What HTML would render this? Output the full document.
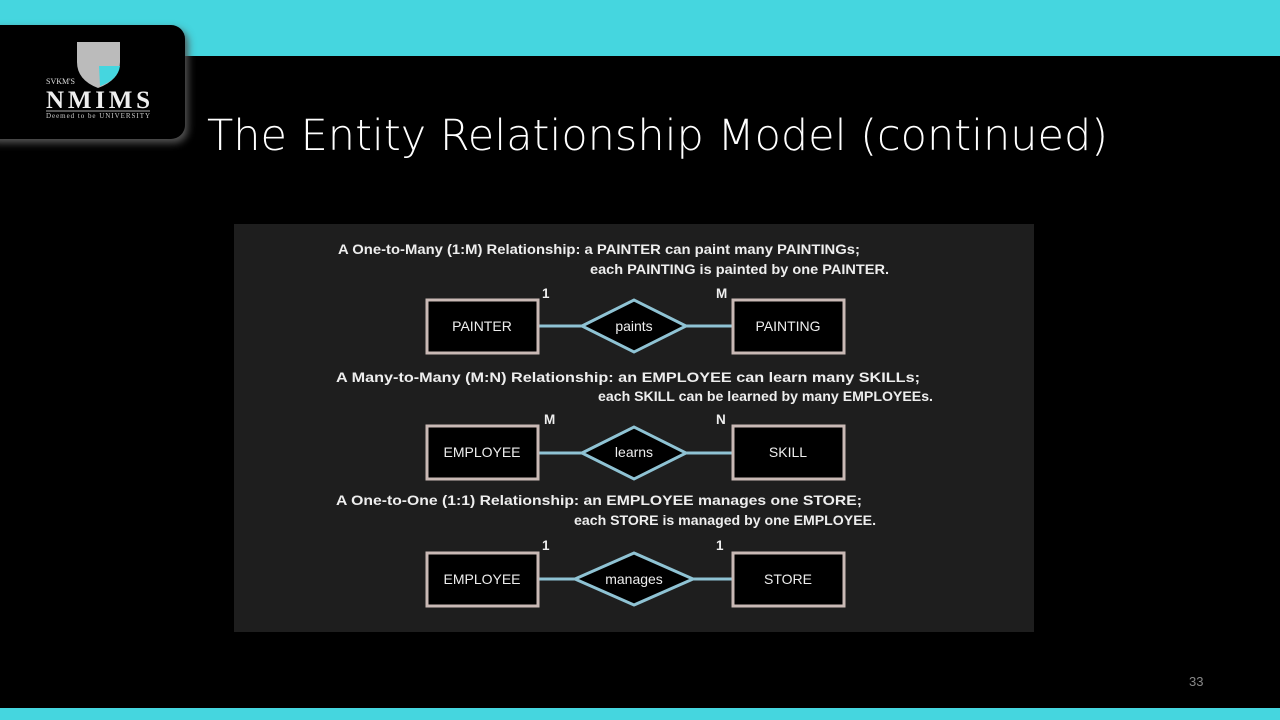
<!DOCTYPE html>
<html><head><meta charset="utf-8"><style>
body{margin:0;width:1280px;height:720px;background:#000;position:relative;overflow:hidden;font-family:"Liberation Sans",sans-serif}
.top{position:absolute;left:0;top:0;width:1280px;height:56px;background:#45d6df}
.bot{position:absolute;left:0;top:708px;width:1280px;height:12px;background:#45d6df}
.logo{position:absolute;left:-20px;top:25px;width:205px;height:114px;background:#000;border-radius:14px;box-shadow:3px 4px 8px #555}
.title{position:absolute;left:207px;top:111px;font-size:43px;color:#fff;font-family:"DejaVu Sans","Liberation Sans",sans-serif;font-weight:200;letter-spacing:0px;white-space:nowrap}
.num{position:absolute;left:1189px;top:674px;color:#888;font-size:13px}
</style></head><body>
<div class="top"></div><div class="bot"></div>
<div class="logo"></div>
<svg style="position:absolute;left:0;top:0" width="1280" height="720">
<g>
<path d="M77 42 H120 V62 Q120 80 98 88 Q77 80 77 62Z" fill="#bbb"/>
<path d="M99 66 H120 Q118 80 100 86Z" fill="#45d6df"/>
<text x="46" y="84" font-size="8" fill="#ddd" font-family="Liberation Serif">SVKM'S</text>
<text x="98" y="108" font-size="25" fill="#eee" font-family="Liberation Serif" font-weight="bold" text-anchor="middle" textLength="104">NMIMS</text>
<line x1="46" y1="111" x2="150" y2="111" stroke="#aaa"/>
<text x="98" y="118" font-size="7" fill="#ccc" font-family="Liberation Serif" text-anchor="middle" textLength="104">Deemed to be UNIVERSITY</text>
</g>
<rect x="234" y="224" width="800" height="408" fill="#1e1e1e"/>
<g font-family="Liberation Sans" font-size="13.5" fill="#eee" font-weight="bold">
<text x="338" y="254" textLength="522" lengthAdjust="spacingAndGlyphs">A One-to-Many (1:M) Relationship: a PAINTER can paint many PAINTINGs;</text>
<text x="590" y="274" textLength="299" lengthAdjust="spacingAndGlyphs">each PAINTING is painted by one PAINTER.</text>
<text x="336" y="382" textLength="584" lengthAdjust="spacingAndGlyphs">A Many-to-Many (M:N) Relationship: an EMPLOYEE can learn many SKILLs;</text>
<text x="598" y="401" textLength="335" lengthAdjust="spacingAndGlyphs">each SKILL can be learned by many EMPLOYEEs.</text>
<text x="336" y="505" textLength="526" lengthAdjust="spacingAndGlyphs">A One-to-One (1:1) Relationship: an EMPLOYEE manages one STORE;</text>
<text x="574" y="525" textLength="302" lengthAdjust="spacingAndGlyphs">each STORE is managed by one EMPLOYEE.</text>
<text x="542" y="298">1</text><text x="716" y="298">M</text>
<text x="544" y="424">M</text><text x="716" y="424">N</text>
<text x="542" y="550">1</text><text x="716" y="550">1</text>
</g>
<g stroke-width="3" font-family="Liberation Sans" font-size="14" fill="#eee" text-anchor="middle">
<g>
<line x1="538" y1="326" x2="732" y2="326" stroke="#8fc3d4"/>
<rect x="427" y="300" width="111" height="53" fill="#000" stroke="#c9b9b5"/>
<rect x="733" y="300" width="111" height="53" fill="#000" stroke="#c9b9b5"/>
<polygon points="582,326 634,300 686,326 634,352" fill="#000" stroke="#8fc3d4"/>
<text x="482" y="331" stroke="none">PAINTER</text><text x="788" y="331" stroke="none">PAINTING</text><text x="634" y="331" stroke="none">paints</text>
</g>
<g>
<line x1="538" y1="453" x2="732" y2="453" stroke="#8fc3d4"/>
<rect x="427" y="426" width="111" height="53" fill="#000" stroke="#c9b9b5"/>
<rect x="733" y="426" width="111" height="53" fill="#000" stroke="#c9b9b5"/>
<polygon points="582,453 634,427 686,453 634,479" fill="#000" stroke="#8fc3d4"/>
<text x="482" y="457" stroke="none">EMPLOYEE</text><text x="788" y="457" stroke="none">SKILL</text><text x="634" y="457" stroke="none">learns</text>
</g>
<g>
<line x1="538" y1="579" x2="732" y2="579" stroke="#8fc3d4"/>
<rect x="427" y="553" width="111" height="53" fill="#000" stroke="#c9b9b5"/>
<rect x="733" y="553" width="111" height="53" fill="#000" stroke="#c9b9b5"/>
<polygon points="575,579 634,553 693,579 634,605" fill="#000" stroke="#8fc3d4"/>
<text x="482" y="584" stroke="none">EMPLOYEE</text><text x="788" y="584" stroke="none">STORE</text><text x="634" y="584" stroke="none">manages</text>
</g>
</g>
</svg>
<div class="title">The Entity Relationship Model (continued)</div>
<div class="num">33</div>
</body></html>
